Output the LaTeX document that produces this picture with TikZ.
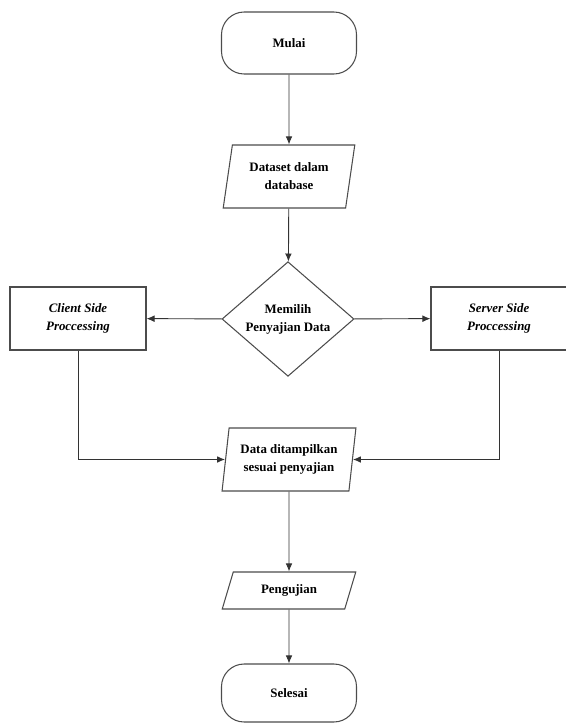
\documentclass[tikz,border=0pt]{standalone}
\usepackage{fontspec}
\setmainfont{Liberation Serif}
\usepackage{tikz}
\usetikzlibrary{arrows.meta,shapes.geometric}
\newcommand{\flowfont}{\fontsize{11}{15.4}\selectfont\bfseries}
\tikzset{
  terminal/.style={draw=black!70,line width=.9pt,rectangle,rounded corners=.68cm,
    minimum width=4.05cm,minimum height=1.86cm,font=\flowfont,align=center},
  data box/.style={draw=black!70,line width=.9pt,trapezium,trapezium left angle=79,
    trapezium right angle=101,trapezium stretches=true,minimum width=3.96cm,
    minimum height=1.89cm,inner xsep=2pt,font=\flowfont,align=center},
  proses/.style={draw=black!70,line width=.9pt,rectangle,minimum width=4.08cm,
    minimum height=1.89cm,font=\flowfont\itshape,align=center},
  pilihan/.style={draw=black!70,line width=.9pt,diamond,minimum width=3.96cm,
    minimum height=3.24cm,inner sep=0pt,font=\flowfont,align=center},
  alur/.style={draw=black!80,line width=.8pt,-{Latex[length=2.4mm,width=2mm]}}
}

\begin{document}
\begin{tikzpicture}[x=0.03cm,y=-0.03cm,line join=miter]
  \useasboundingbox (0,0) rectangle (566,724);

  \node[terminal] (mulai)   at (289, 43)    {Mulai};
  \node[data box] (dataset) at (289,176.5)  {Dataset dalam\\database};
  \node[pilihan]  (pilih)   at (288,319)    {Memilih\\Penyajian Data};
  \node[proses]   (client)  at ( 78,318.5)  {Client Side\\Proccessing};
  \node[proses]   (server)  at (499,318.5)  {Server Side\\Proccessing};
  \node[data box,minimum width=4.02cm,trapezium left angle=81,trapezium right angle=99]
                  (tampil)  at (289,459.5)  {Data ditampilkan\\sesuai penyajian};
  \node[data box,minimum width=4.02cm,minimum height=1.11cm,
        trapezium left angle=73,trapezium right angle=107]
                  (uji)     at (289,590.5)  {Pengujian};
  \node[terminal,minimum height=1.74cm] (selesai) at (289,693) {Selesai};

  \draw[alur] (mulai) -- (dataset);
  \draw[alur] (dataset) -- (pilih);
  \draw[alur] (pilih) -- (client);
  \draw[alur] (pilih) -- (server);
  \draw[alur] (client) |- (tampil);
  \draw[alur] (server) |- (tampil);
  \draw[alur] (tampil) -- (uji);
  \draw[alur] (uji) -- (selesai);
\end{tikzpicture}
\end{document}
